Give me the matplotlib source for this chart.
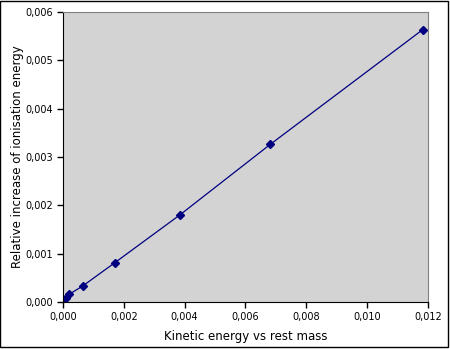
import matplotlib
matplotlib.use("Agg")
import matplotlib.pyplot as plt
from matplotlib.ticker import FuncFormatter, MultipleLocator
from matplotlib.patches import Rectangle

# values
kinetic = [0.0, 0.00009, 0.00021, 0.00065, 0.0017, 0.00384, 0.00681, 0.01183]
ionis_incr = [0.0, 0.00008, 0.00016, 0.00033, 0.00081, 0.00180, 0.00326, 0.00564]

x_label = "Kinetic energy vs rest mass"
y_label = "Relative increase of ionisation energy"

plt.rcParams['font.family'] = ['DejaVu Sans']

fig = plt.figure(figsize=(4.5, 3.49), dpi=100)
ax = fig.add_axes([0.14, 0.135, 0.811, 0.830])

ax.set_facecolor("#d3d3d3")
ax.plot(kinetic, ionis_incr, color="#000080", lw=0.9, marker="D", ms=3.8,
        mfc="#000080", mec="#000080")

ax.set_xlim(0, 0.012)
ax.set_ylim(0, 0.006)
ax.xaxis.set_major_locator(MultipleLocator(0.002))
ax.yaxis.set_major_locator(MultipleLocator(0.001))
fmt = FuncFormatter(lambda v, p: f"{v:.3f}".replace(".", ","))
ax.xaxis.set_major_formatter(fmt)
ax.yaxis.set_major_formatter(fmt)
ax.tick_params(labelsize=7, length=4, width=1, direction="out", pad=3)

for side in ["top", "right"]:
    ax.spines[side].set_color("#808080")
for side in ["left", "bottom"]:
    ax.spines[side].set_color("black")

ax.set_xlabel(x_label, fontsize=8.5, labelpad=6)
ax.set_ylabel(y_label, fontsize=8.5, labelpad=1)

# outer chart border
fig.patches.append(Rectangle((0.001, 0.005), 0.994, 0.992, transform=fig.transFigure,
                             fill=False, edgecolor="black", lw=1))

fig.savefig("out.png", dpi=100)
